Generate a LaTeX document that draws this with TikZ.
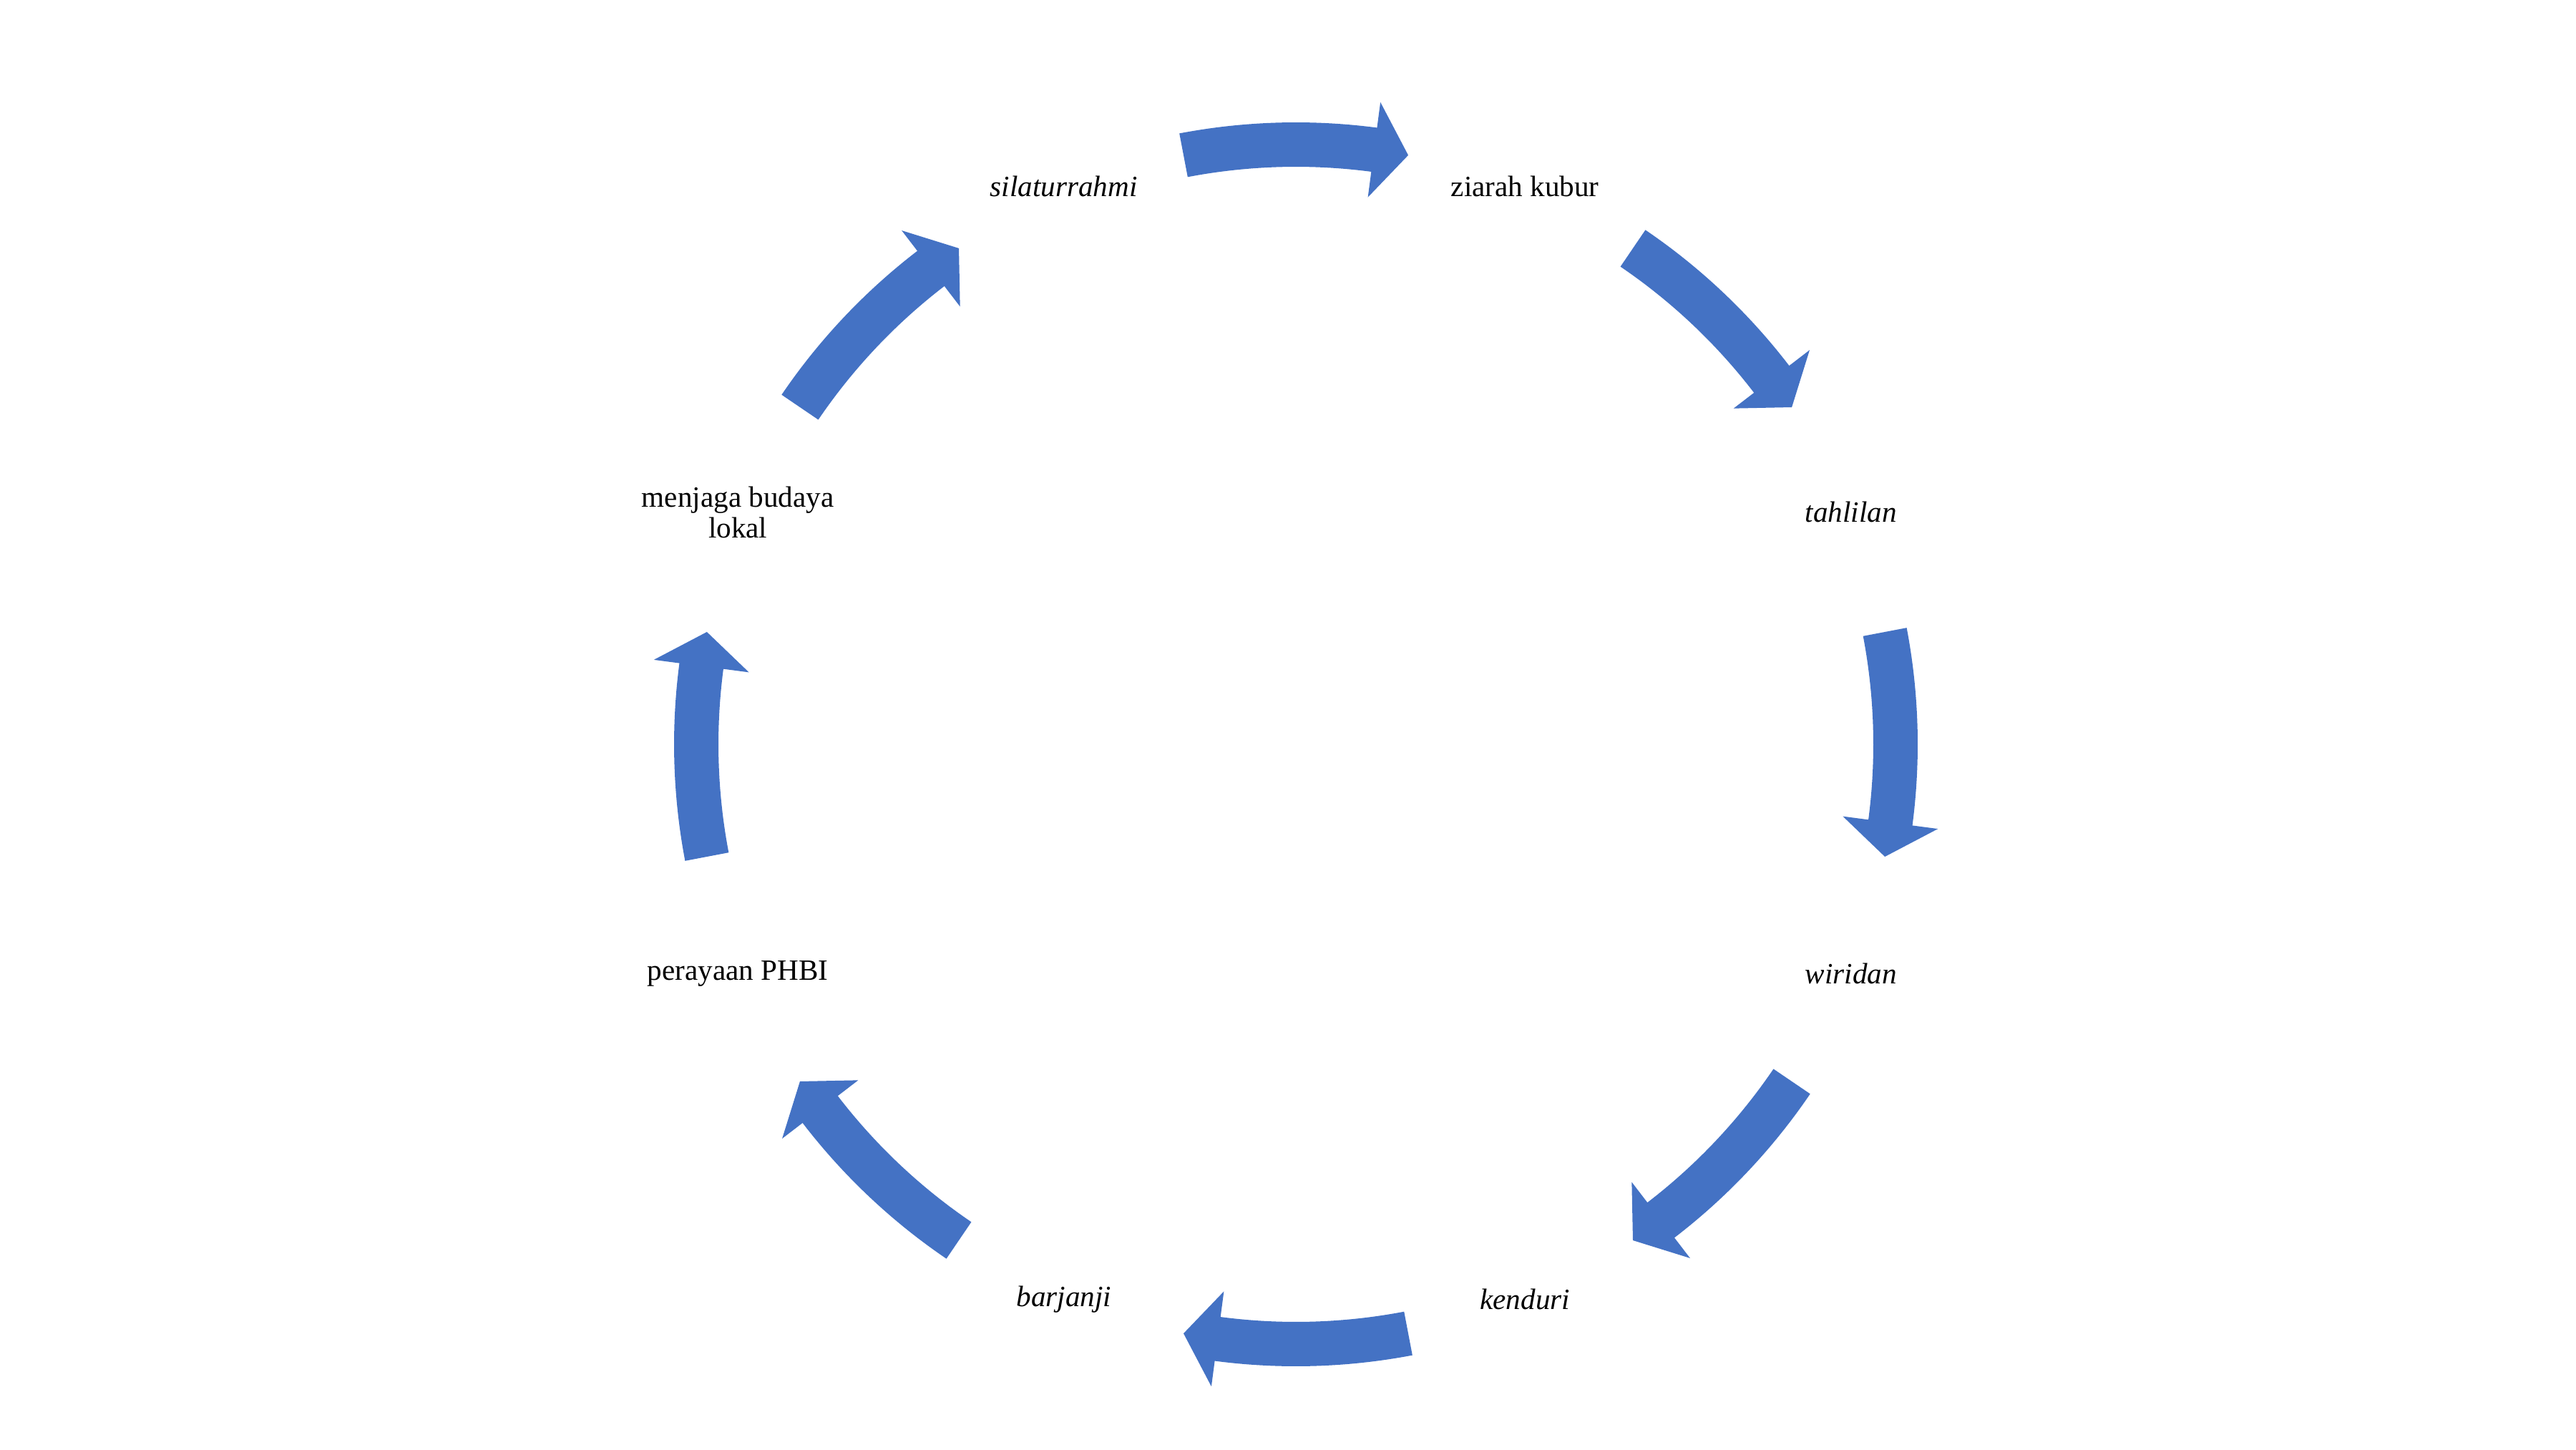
\documentclass[tikz,border=0pt]{standalone}
\usepackage{fontspec}
\setmainfont{Liberation Serif}
\usetikzlibrary{positioning,calc}
\definecolor{smartblue}{HTML}{4472C4}
\begin{document}
\begin{tikzpicture}[lbl/.style={font=\fontsize{11.7}{12.3}\selectfont,align=center,inner sep=0pt}]
\useasboundingbox (0,0) rectangle (36,20.25);
\coordinate (O) at (18.11,9.85);
\coordinate (L) at (18.09,9.87);
\node[lbl] (sil) at ($(L)+(112.5:8.42)$) {\textit{silaturrahmi}};
\node[lbl] (zia) at ($(L)+(67.5:8.42)$) {ziarah kubur};
\node[lbl] (tah) at ($(L)+(22.5:8.42)$) {\textit{tahlilan}};
\node[lbl] (wir) at ($(L)+(-22.5:8.42)$) {\textit{wiridan}};
\node[lbl] (ken) at ($(L)+(-67.5:8.42)$) {\textit{kenduri}};
\node[lbl] (bar) at ($(L)+(-112.5:8.42)$) {\textit{barjanji}};
\node[lbl] (phbi) at ($(L)+(-157.5:8.42)$) {perayaan PHBI};
\node[lbl] (bud) at ($(L)+(157.5:8.42)$) {menjaga budaya\\lokal};
\foreach \a [evaluate=\a as \t using \a+10.8, evaluate=\a as \b using \a-7.5,
  evaluate=\a as \p using \a-10.8] in {90,45,...,-225}
  \fill[smartblue] ($(O)+(\t:8.07)$) arc[start angle=\t, end angle=\b, radius=8.07]
    -- ($(O)+(\b:7.71)$) -- ($(O)+(\p:8.38)$) -- ($(O)+(\b:9.05)$)
    -- ($(O)+(\b:8.69)$) arc[start angle=\b, end angle=\t, radius=8.69] -- cycle;
\end{tikzpicture}
\end{document}
